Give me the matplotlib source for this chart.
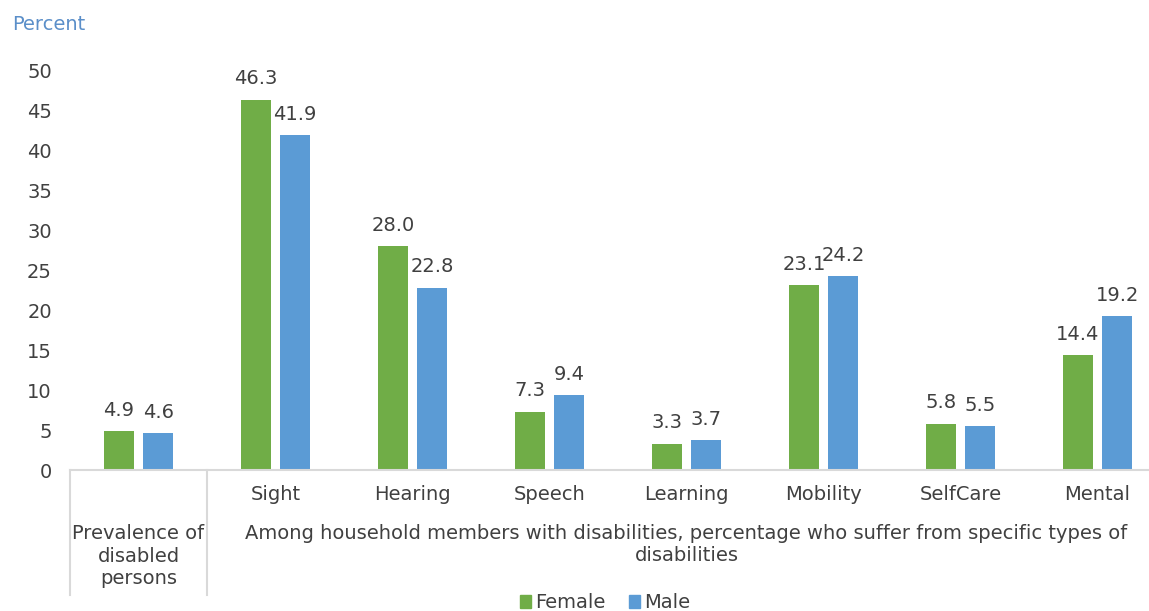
import matplotlib.pyplot as plt
import matplotlib.transforms as mtransforms
from matplotlib.patches import Patch

plt.rcParams['font.family'] = ['DejaVu Sans']

categories = ['Prevalence', 'Sight', 'Hearing', 'Speech', 'Learning', 'Mobility', 'SelfCare', 'Mental']
female = [4.9, 46.3, 28.0, 7.3, 3.3, 23.1, 5.8, 14.4]
male = [4.6, 41.9, 22.8, 9.4, 3.7, 24.2, 5.5, 19.2]
yticks = [0, 5, 10, 15, 20, 25, 30, 35, 40, 45, 50]

green = '#70ad47'
blue = '#5b9bd5'
txt = '#404040'
grey = '#d9d9d9'
fs = 14

fig = plt.figure(figsize=(11.49, 6.11), dpi=100)
ax = fig.add_axes([70 / 1149, 141 / 611, 1079 / 1149, 400 / 611])

x = list(range(len(categories)))
w = 0.22
off = 0.143
b1 = ax.bar([i - off for i in x], female, width=w, color=green, label='Female')
b2 = ax.bar([i + off for i in x], male, width=w, color=blue, label='Male')

for bars, vals in ((b1, female), (b2, male)):
    for r, v in zip(bars, vals):
        ax.annotate(f'{v:.1f}', (r.get_x() + r.get_width() / 2, v), xytext=(0, 8),
                    textcoords='offset points', ha='center', va='bottom',
                    fontsize=fs, color=txt)

ax.set_xlim(-0.5, 7.376)
ax.set_ylim(0, 50)
ax.set_yticks(yticks)
ax.tick_params(axis='y', length=0, pad=13, labelsize=fs, labelcolor=txt)
ax.set_xticks([])
for s in ('top', 'right', 'left'):
    ax.spines[s].set_visible(False)
ax.spines['bottom'].set_color(grey)
ax.spines['bottom'].set_linewidth(1.5)

trans = mtransforms.blended_transform_factory(ax.transData, ax.transAxes)
for xv in (-0.5, 0.5):
    ax.plot([xv, xv], [0, -0.3125], transform=trans, color=grey, lw=1.5, clip_on=False)

for i in x[1:]:
    ax.text(i, -0.0625, categories[i], transform=trans, ha='center', va='center',
            fontsize=fs, color=txt)

ax.text(0, -0.215, 'Prevalence of\ndisabled\npersons', transform=trans, ha='center',
        va='center', fontsize=fs, color=txt, linespacing=1.25)
ax.text(4.0, -0.186, 'Among household members with disabilities, percentage who suffer from specific types of\ndisabilities',
        transform=trans, ha='center', va='center', fontsize=fs, color=txt, linespacing=1.25)

fig.text(12 / 1149, 1 - 24 / 611, 'Percent', ha='left', va='center', fontsize=14, color='#5b8fc9')

handles = [Patch(color=green, label='Female'), Patch(color=blue, label='Male')]
fig.legend(handles=handles, loc='center', bbox_to_anchor=(605 / 1149, 1 - 603 / 611), ncol=2,
           frameon=False, fontsize=fs, handlelength=0.6, handleheight=0.6,
           handletextpad=0.2, columnspacing=1.2, labelcolor=txt)

fig.savefig('out.png', dpi=100)
